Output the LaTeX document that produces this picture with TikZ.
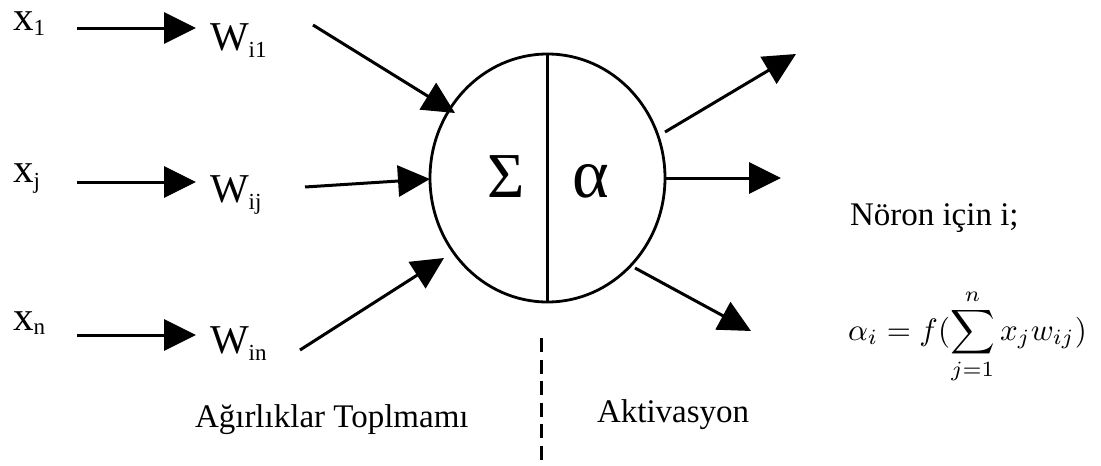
\documentclass[tikz,border=0pt]{standalone}
\usepackage{fontspec}
\setmainfont{Liberation Serif}
\usetikzlibrary{arrows.meta,shapes.geometric}
\newcommand\lsub[2]{\raisebox{-#1}{\fontsize{23}{23}\selectfont #2}}
\tikzset{
  every node/.style={inner sep=0pt, outer sep=0pt},
  big/.style={font=\fontsize{41}{41}\selectfont, anchor=base west},
  lab/.style={font=\fontsize{33}{33}\selectfont, anchor=base west},
  arr/.style={line width=3pt, -{Triangle[length=32pt,width=31pt]}},
  neuron/.style={draw, line width=2.8pt, ellipse, minimum width=235pt, minimum height=248pt}
}
\begin{document}
\begin{tikzpicture}[x=1pt,y=-1pt]
\useasboundingbox (0,0) rectangle (1101,466);
% inputs
\node[big] (x1) at (13,30) {x\lsub{5pt}{1}};
\node[big] (xj) at (13,182) {x\lsub{6pt}{j}};
\node[big] (xn) at (13,330) {x\lsub{4pt}{n}};
\node[big] (w1) at (210,50) {W\lsub{7pt}{i1}};
\node[big] (wj) at (210,202) {W\lsub{7pt}{ij}};
\node[big] (wn) at (210,353) {W\lsub{7pt}{in}};
\coordinate (x1e) at (77,28);  \coordinate (w1w) at (196,28);
\coordinate (xje) at (77,182); \coordinate (wjw) at (196,182);
\coordinate (xne) at (77,335); \coordinate (wnw) at (196,335);
\draw[arr] (x1e) -- (w1w);
\draw[arr] (xje) -- (wjw);
\draw[arr] (xne) -- (wnw);
% neuron
\node[neuron] (n) at (547.5,178) {};
\draw[line width=2.5pt] (n.north) -- (n.south);
\node[font=\fontsize{64}{64}\selectfont, anchor=base] (sig) at (506,197) {Σ};
\node[font=\fontsize{70}{70}\selectfont, anchor=base] (alp) at (591,197) {α};
% weighted inputs
\coordinate (w1e) at (313,25);  \coordinate (t1) at (455,113);
\coordinate (wje) at (305,187); \coordinate (t2) at (430,179);
\coordinate (wne) at (300,350); \coordinate (t3) at (444,258);
\draw[arr] (w1e) -- (t1);
\draw[arr] (wje) -- (t2);
\draw[arr] (wne) -- (t3);
% outputs
\coordinate (o1s) at (665,132); \coordinate (o1) at (796,54);
\coordinate (o2s) at (665,178); \coordinate (o2) at (781,178);
\coordinate (o3s) at (635,268); \coordinate (o3) at (751,331);
\draw[arr] (o1s) -- (o1);
\draw[arr] (o2s) -- (o2);
\draw[arr] (o3s) -- (o3);
% divider
\coordinate (d1) at (541,338); \coordinate (d2) at (541,462);
\draw[line width=3pt, dash pattern=on 14pt off 7.5pt] (d1) -- (d2);
% labels
\node[lab] (agr) at (195,427) {Ağırlıklar Toplmamı};
\node[lab] (akt) at (597,422) {Aktivasyon};
\node[lab] (nor) at (850,225) {Nöron için i;};
\node[anchor=base west] (eq) at (848,340)
  {\scalebox{3.1}{$\displaystyle \alpha_i = f(\sum_{j=1}^{n} x_j w_{ij})$}};
\end{tikzpicture}
\end{document}
